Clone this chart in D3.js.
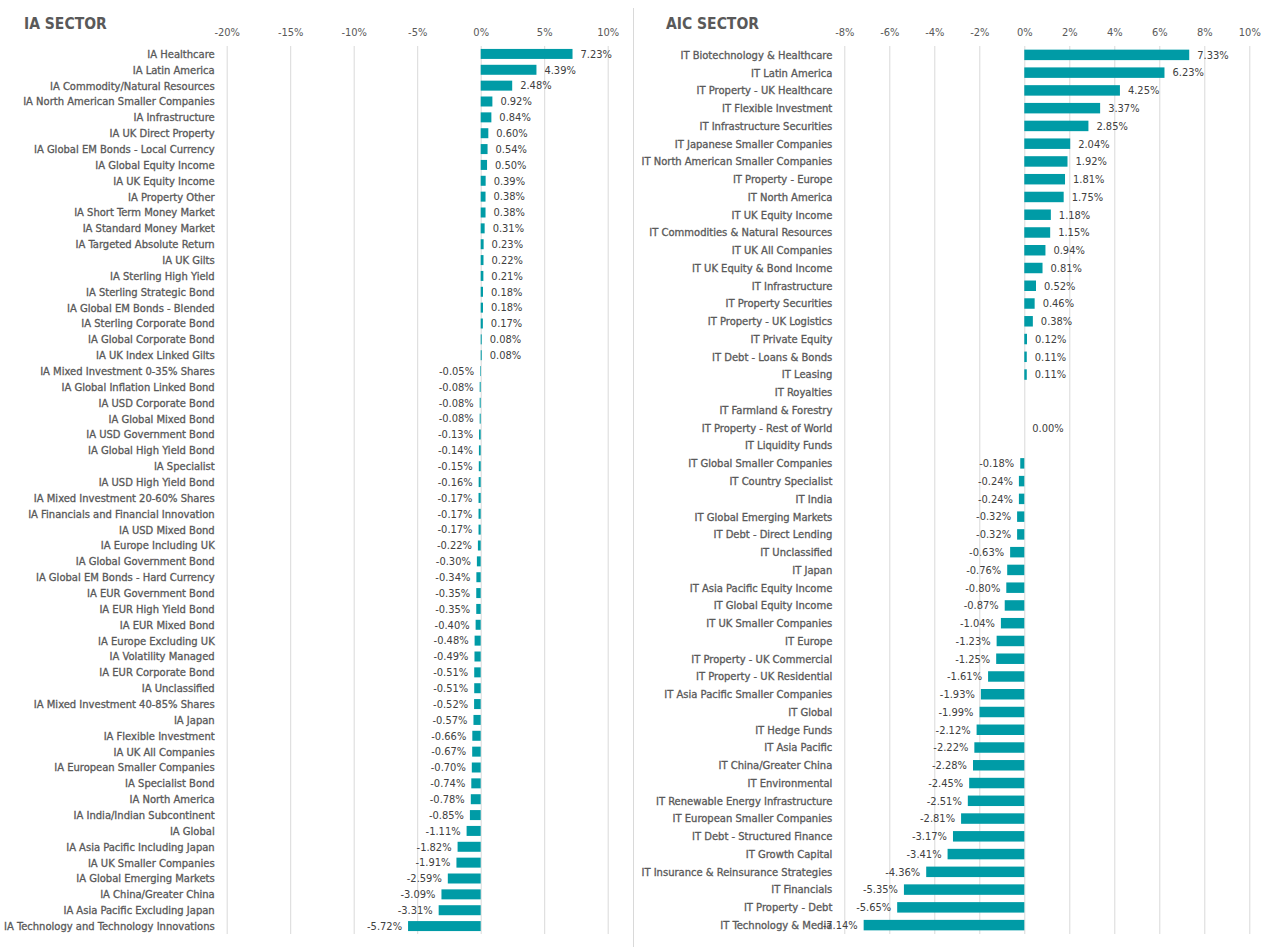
<!DOCTYPE html>
<html>
<head>
<meta charset="utf-8">
<script src="https://cdn.jsdelivr.net/npm/d3@7"></script>
<style>
  body { margin: 0; background: #fff; }
  svg text { font-family: "Liberation Sans Narrow", "DejaVu Sans Condensed", "Arial Narrow", sans-serif; }
</style>
</head>
<body>
<svg id="chart" width="1264" height="947"></svg>
<script>
// IA sector returns (%)
var iaNames = ["IA Healthcare","IA Latin America","IA Commodity/Natural Resources","IA North American Smaller Companies",
  "IA Infrastructure","IA UK Direct Property","IA Global EM Bonds - Local Currency","IA Global Equity Income",
  "IA UK Equity Income","IA Property Other","IA Short Term Money Market","IA Standard Money Market",
  "IA Targeted Absolute Return","IA UK Gilts","IA Sterling High Yield","IA Sterling Strategic Bond",
  "IA Global EM Bonds - Blended","IA Sterling Corporate Bond","IA Global Corporate Bond","IA UK Index Linked Gilts",
  "IA Mixed Investment 0-35% Shares","IA Global Inflation Linked Bond","IA USD Corporate Bond","IA Global Mixed Bond",
  "IA USD Government Bond","IA Global High Yield Bond","IA Specialist","IA USD High Yield Bond",
  "IA Mixed Investment 20-60% Shares","IA Financials and Financial Innovation","IA USD Mixed Bond","IA Europe Including UK",
  "IA Global Government Bond","IA Global EM Bonds - Hard Currency","IA EUR Government Bond","IA EUR High Yield Bond",
  "IA EUR Mixed Bond","IA Europe Excluding UK","IA Volatility Managed","IA EUR Corporate Bond",
  "IA Unclassified","IA Mixed Investment 40-85% Shares","IA Japan","IA Flexible Investment",
  "IA UK All Companies","IA European Smaller Companies","IA Specialist Bond","IA North America",
  "IA India/Indian Subcontinent","IA Global","IA Asia Pacific Including Japan","IA UK Smaller Companies",
  "IA Global Emerging Markets","IA China/Greater China","IA Asia Pacific Excluding Japan","IA Technology and Technology Innovations"];
var iaValues = [7.23,4.39,2.48,0.92,0.84,0.60,0.54,0.50,0.39,0.38,0.38,0.31,0.23,0.22,0.21,0.18,0.18,0.17,0.08,0.08,
  -0.05,-0.08,-0.08,-0.08,-0.13,-0.14,-0.15,-0.16,-0.17,-0.17,-0.17,-0.22,-0.30,-0.34,-0.35,-0.35,-0.40,-0.48,-0.49,-0.51,
  -0.51,-0.52,-0.57,-0.66,-0.67,-0.70,-0.74,-0.78,-0.85,-1.11,-1.82,-1.91,-2.59,-3.09,-3.31,-5.72];
var iaTicks = [-20,-15,-10,-5,0,5,10];

// AIC sector returns (%), null = no data
var aicNames = ["IT Biotechnology & Healthcare","IT Latin America","IT Property - UK Healthcare","IT Flexible Investment",
  "IT Infrastructure Securities","IT Japanese Smaller Companies","IT North American Smaller Companies","IT Property - Europe",
  "IT North America","IT UK Equity Income","IT Commodities & Natural Resources","IT UK All Companies",
  "IT UK Equity & Bond Income","IT Infrastructure","IT Property Securities","IT Property - UK Logistics",
  "IT Private Equity","IT Debt - Loans & Bonds","IT Leasing","IT Royalties",
  "IT Farmland & Forestry","IT Property - Rest of World","IT Liquidity Funds","IT Global Smaller Companies",
  "IT Country Specialist","IT India","IT Global Emerging Markets","IT Debt - Direct Lending",
  "IT Unclassified","IT Japan","IT Asia Pacific Equity Income","IT Global Equity Income",
  "IT UK Smaller Companies","IT Europe","IT Property - UK Commercial","IT Property - UK Residential",
  "IT Asia Pacific Smaller Companies","IT Global","IT Hedge Funds","IT Asia Pacific",
  "IT China/Greater China","IT Environmental","IT Renewable Energy Infrastructure","IT European Smaller Companies",
  "IT Debt - Structured Finance","IT Growth Capital","IT Insurance & Reinsurance Strategies","IT Financials",
  "IT Property - Debt","IT Technology & Media"];
var aicValues = [7.33,6.23,4.25,3.37,2.85,2.04,1.92,1.81,1.75,1.18,1.15,0.94,0.81,0.52,0.46,0.38,0.12,0.11,0.11,null,
  null,0.00,null,-0.18,-0.24,-0.24,-0.32,-0.32,-0.63,-0.76,-0.80,-0.87,-1.04,-1.23,-1.25,-1.61,-1.93,-1.99,-2.12,-2.22,
  -2.28,-2.45,-2.51,-2.81,-3.17,-3.41,-4.36,-5.35,-5.65,-7.14];
var aicTicks = [-8,-6,-4,-2,0,2,4,6,8,10];

var svg = d3.select("#chart");
var barColor = "#009ba6";

drawPanel({title:"IA SECTOR", titleX:24, names:iaNames, values:iaValues, ticks:iaTicks,
  x0:226.7, x1:607.7, pad:0.37});
drawPanel({title:"AIC SECTOR", titleX:666, names:aicNames, values:aicValues, ticks:aicTicks,
  x0:844.3, x1:1249.3, pad:0.41});

// divider between the two panels
svg.append("line").attr("x1",633.5).attr("x2",633.5).attr("y1",8).attr("y2",947)
  .attr("stroke","#d9d9d9").attr("stroke-width",1);

function drawPanel(o){
  var top = 46, bottom = 934;
  var x = d3.scaleLinear().domain([o.ticks[0], o.ticks[o.ticks.length-1]]).range([o.x0, o.x1]);
  var y = d3.scaleBand().domain(o.names).range([top, bottom]).paddingInner(o.pad).paddingOuter(o.pad/2);
  var g = svg.append("g");

  g.append("text").attr("x",o.titleX).attr("y",29).text(o.title)
    .attr("font-size",15.5).attr("font-weight","bold").attr("fill","#595959");

  // gridlines + tick labels
  var ax = g.append("g").attr("transform","translate(0,"+top+")")
    .call(d3.axisTop(x).tickValues(o.ticks).tickSize(top-bottom).tickFormat(function(d){return d+"%";}));
  ax.select(".domain").remove();
  ax.selectAll(".tick line").attr("stroke","#d9d9d9");
  ax.selectAll(".tick text").attr("y",-10).attr("dy",0).attr("font-size",11).attr("fill","#595959");
  ax.selectAll(".tick text").attr("font-family",null);

  // category labels
  g.selectAll(".cat").data(o.names).enter().append("text")
    .attr("x", o.x0 - 12)
    .attr("y", function(d){return y(d)+y.bandwidth()/2;})
    .attr("dy","0.35em").attr("text-anchor","end")
    .attr("font-size",11.1).attr("fill","#595959")
    .attr("stroke","#595959").attr("stroke-width",0.3)
    .text(function(d){return d;});

  var rows = o.names.map(function(n,i){return {name:n, v:o.values[i]};});
  var withVal = rows.filter(function(d){return d.v !== null;});

  g.selectAll(".bar").data(withVal).enter().append("rect")
    .attr("x", function(d){return x(Math.min(0,d.v));})
    .attr("y", function(d){return y(d.name);})
    .attr("width", function(d){return Math.abs(x(d.v)-x(0));})
    .attr("height", y.bandwidth())
    .attr("fill", barColor);

  g.selectAll(".val").data(withVal).enter().append("text")
    .attr("x", function(d){return d.v < 0 ? x(d.v)-6 : x(d.v)+8;})
    .attr("y", function(d){return y(d.name)+y.bandwidth()/2;})
    .attr("dy","0.35em")
    .attr("text-anchor", function(d){return d.v < 0 ? "end" : "start";})
    .attr("font-size",11).attr("fill","#404040")
    .text(function(d){return d.v.toFixed(2)+"%";});
}
</script>
</body>
</html>
